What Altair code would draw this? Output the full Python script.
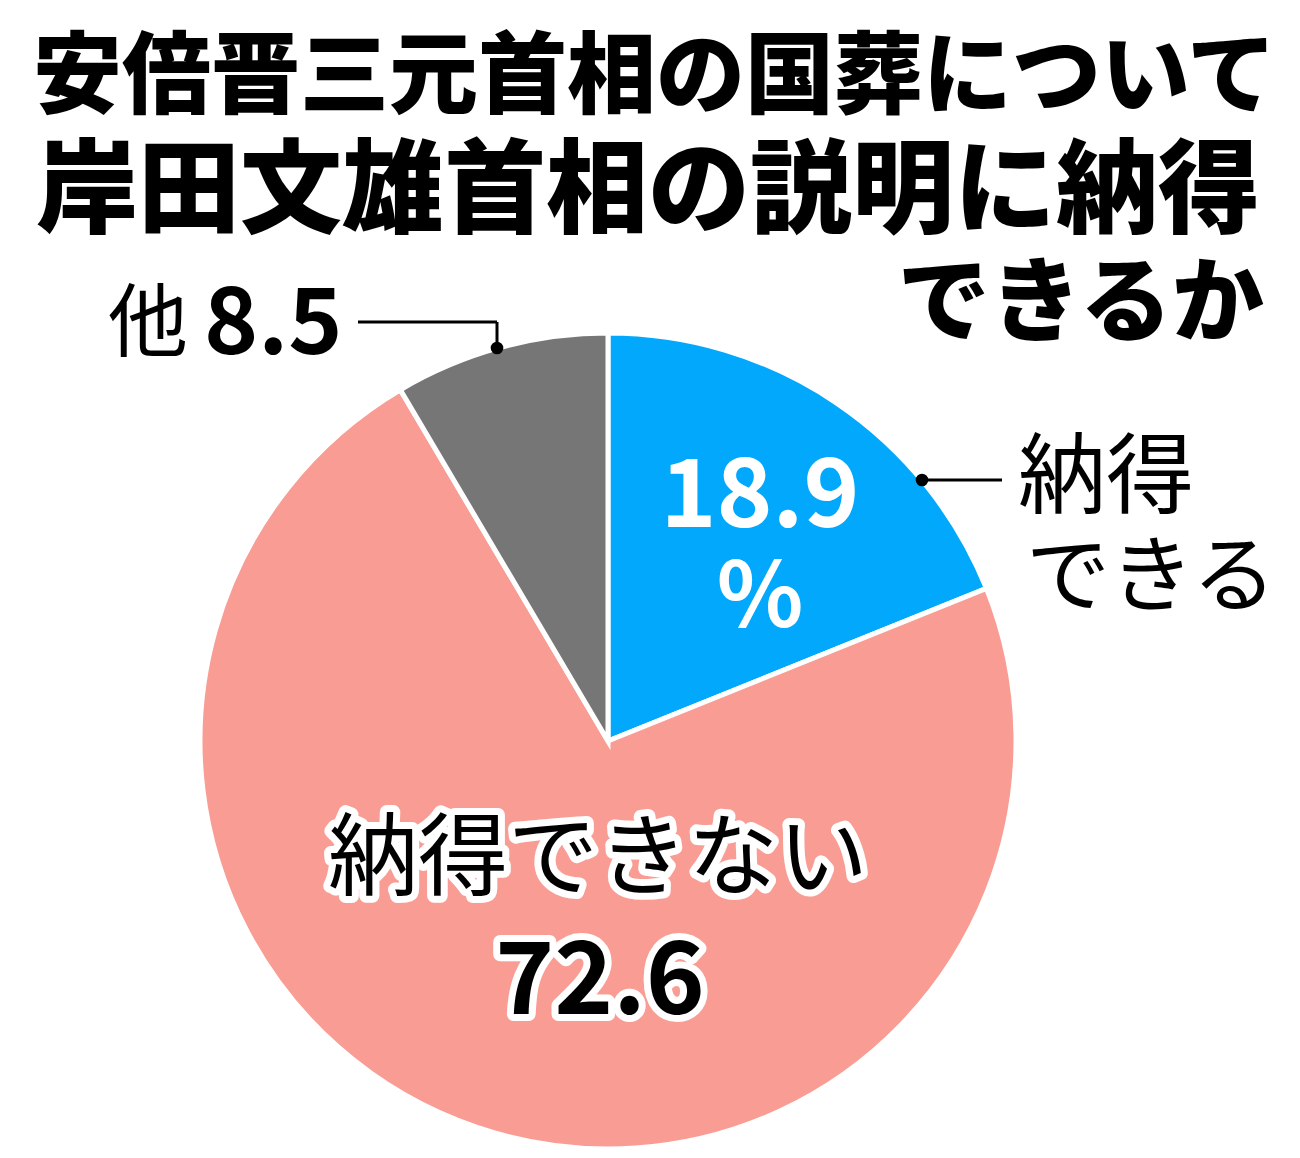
import altair as alt
import pandas as pd

# ---- data ----
categories = ["納得できる", "納得できない", "他"]
values = [18.9, 72.6, 8.5]
order = [1, 2, 3]
colors = ["#02A8FC", "#F99D94", "#767676"]

title_lines = ["安倍晋三元首相の国葬について", "岸田文雄首相の説明に納得", "できるか"]
label_yes = ["納得", "できる"]
label_yes_value = "18.9"
label_no = "納得できない"
label_no_value = "72.6"
label_other = "他"
label_other_value = "8.5"

FONT = "Noto Sans CJK JP"

df = pd.DataFrame({"category": categories, "value": values, "order": order})

CX, CY, R = 600, 733, 408

pie = alt.Chart(df).mark_arc(radius=R, stroke="white", strokeWidth=5).encode(
    theta=alt.Theta("value:Q", stack=True),
    order=alt.Order("order:Q"),
    color=alt.Color("category:N", scale=alt.Scale(domain=categories, range=colors), legend=None),
    x=alt.value(CX),
    y=alt.value(CY),
)


def txt(s, x, y, size, color="black", weight="bold", align="center", halo=False):
    d = pd.DataFrame({"t": [s]})
    layers = []
    if halo:
        layers.append(
            alt.Chart(d).mark_text(
                font=FONT, fontSize=size, fontWeight=weight, align=align, baseline="middle",
                fill="white", stroke="white", strokeWidth=14, strokeJoin="round",
            ).encode(text="t:N", x=alt.value(x), y=alt.value(y))
        )
    layers.append(
        alt.Chart(d).mark_text(
            font=FONT, fontSize=size, fontWeight=weight, align=align, baseline="middle", color=color,
        ).encode(text="t:N", x=alt.value(x), y=alt.value(y))
    )
    return layers


def rule(x1, x2, y1, y2):
    d = pd.DataFrame({"a": [0]})
    return alt.Chart(d).mark_rule(color="black", strokeWidth=3).encode(
        x=alt.value(x1), x2=alt.value(x2), y=alt.value(y1), y2=alt.value(y2)
    )


def dot(x, y):
    d = pd.DataFrame({"a": [0]})
    return alt.Chart(d).mark_circle(color="black", opacity=1, size=160).encode(
        x=alt.value(x), y=alt.value(y)
    )


layers = [pie]
# title
layers += txt(title_lines[0], 25, 71, 89, weight=900, align="left")
layers += txt(title_lines[1], 28, 186, 102, weight=900, align="left")
layers += txt(title_lines[2], 1256, 298, 92, weight=900, align="right")

# other label
layers += txt(label_other, 140, 318, 80, weight="normal")
layers += txt(label_other_value, 196, 318, 92, align="left")
layers.append(rule(350, 489, 314, 314))
layers.append(rule(489, 489, 314, 340))
layers.append(dot(489, 340))

# yes label
layers.append(rule(914, 994, 472, 472))
layers.append(dot(914, 472))
layers += txt(label_yes[0], 1010, 472, 88, weight="normal", align="left")
layers += txt(label_yes[1], 1018, 572, 84, weight="normal", align="left")
layers += txt(label_yes_value, 752, 490, 95, color="white")
layers += txt("%", 752, 592, 90, color="white")

# no label
layers += txt(label_no, 590, 853, 90, weight="normal", halo=True)
layers += txt(label_no_value, 592, 976, 100, halo=True)

chart = alt.layer(*layers).properties(
    width=1284,
    height=1140,
    padding=0,
    autosize=alt.AutoSizeParams(type="fit", contains="padding"),
    background="white",
).configure_view(stroke=None)

chart.save("out.html", embed_options={"renderer": "svg", "actions": False})
